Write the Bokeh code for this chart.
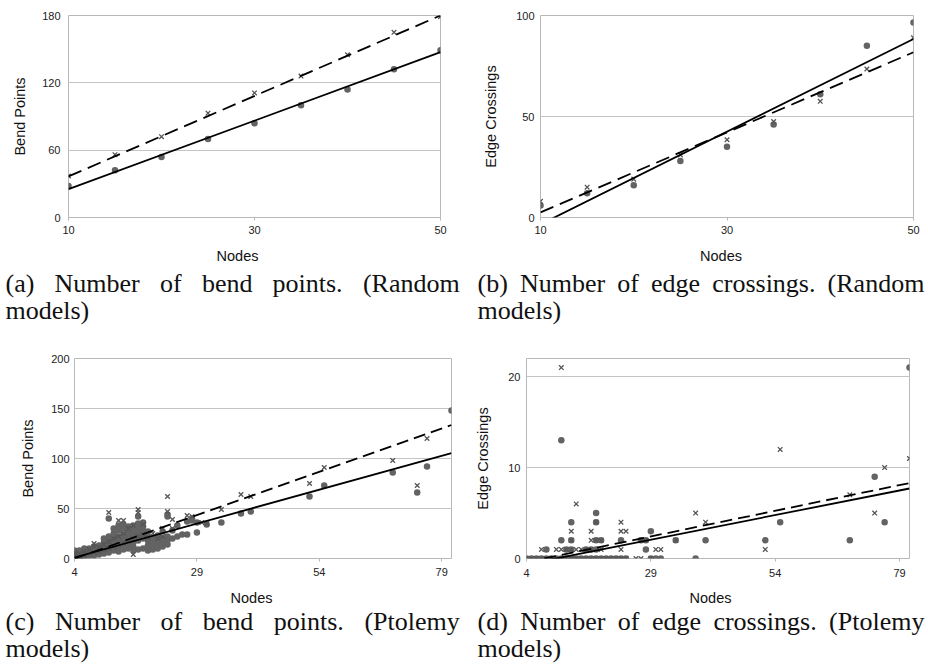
from bokeh.plotting import figure
from bokeh.layouts import column, row
from bokeh.models import Label, FixedTicker, Range1d
from bokeh.embed import file_html
from bokeh.resources import INLINE

# ---------------- data ----------------
# (a) Random models: bend points
a_nodes = [10, 15, 20, 25, 30, 35, 40, 45, 50]
a_dots = [28, 42, 54, 70, 84, 100, 114, 132, 149]
a_cross = [37, 56, 72, 93, 111, 126, 145, 165, 179]
a_trend_x = [10, 50]
a_trend_dots = [25.3, 147.3]
a_trend_cross = [36.6, 180.0]

# (b) Random models: edge crossings
b_nodes = [10, 15, 20, 25, 30, 35, 40, 45, 50]
b_dots = [6, 12, 16, 28, 35, 46, 61, 85, 96.5]
b_cross = [8, 15, 19, 31, 38.5, 47.5, 57.5, 73.5, 89]
b_trend_x = [10, 50]
b_trend_dots = [-3.4, 88.4]
b_trend_cross = [2.5, 81.8]

# (c) Ptolemy models: bend points
c_dot_x = [4, 4, 4, 4, 4, 4, 5, 5, 5, 5, 5, 6, 6, 6, 6, 6, 6, 7, 7, 7, 7, 7,
           8, 8, 8, 8, 8, 8, 9, 9, 9, 9, 9, 10, 10, 10, 10, 10, 10, 10,
           11, 11, 11, 11, 11, 11, 11, 12, 12, 12, 12, 12, 12, 12,
           13, 13, 13, 13, 13, 13, 13, 14, 14, 14, 14, 14, 14, 14,
           15, 15, 15, 15, 15, 15, 16, 16, 16, 16, 16, 16, 16,
           17, 17, 17, 17, 17, 17, 17, 18, 18, 18, 18, 18, 18,
           19, 19, 19, 19, 19, 20, 20, 20, 20, 21, 21, 21, 21,
           22, 22, 22, 22, 23, 23, 23, 23, 23, 24, 24, 25, 25, 26, 27, 27,
           28, 28, 29, 29, 31, 34, 38, 40, 52, 55, 69, 74, 76, 81]
c_dot_y = [0, 2, 3, 5, 7, 8, 1, 3, 4, 6, 8, 2, 4, 5, 7, 9, 10, 3, 5, 6, 8, 10,
           3, 5, 7, 9, 11, 12, 4, 6, 8, 10, 13, 5, 8, 10, 12, 14, 16, 20,
           6, 9, 12, 15, 18, 22, 40, 8, 11, 14, 17, 20, 25, 30,
           7, 12, 15, 18, 22, 28, 33, 9, 13, 16, 20, 24, 30, 34,
           10, 14, 18, 22, 26, 32, 8, 12, 16, 20, 25, 28, 33,
           9, 18, 22, 26, 30, 35, 42, 10, 20, 24, 28, 32, 36,
           8, 13, 18, 22, 27, 9, 12, 16, 20, 10, 14, 18, 23,
           12, 16, 20, 27, 14, 18, 22, 42, 44, 20, 28, 22, 33, 24, 24, 37,
           38, 40, 26, 36, 34, 36, 45, 47, 62, 73, 86, 66, 92, 148]
c_cross_x = [4, 4, 4, 5, 5, 6, 6, 7, 7, 8, 8, 8, 9, 9, 10, 10, 11, 11, 11,
             12, 12, 13, 13, 13, 14, 14, 14, 15, 15, 16, 16, 16, 17, 17, 17,
             18, 18, 19, 20, 21, 22, 22, 23, 23, 24, 24, 27, 28, 30, 31, 34,
             38, 40, 52, 55, 69, 74, 76]
c_cross_y = [1, 4, 6, 2, 5, 3, 7, 5, 9, 6, 12, 15, 7, 11, 9, 14, 10, 17, 46,
             12, 20, 14, 22, 38, 16, 25, 38, 18, 30, 4, 20, 33, 22, 46, 49,
             24, 34, 21, 25, 20, 22, 30, 47, 62, 30, 39, 43, 42, 36, 35, 49,
             64, 62, 75, 91, 98, 73, 120]
c_trend_x = [4, 81]
c_trend_dots = [1.0, 105.4]
c_trend_cross = [0.0, 133.5]

# (d) Ptolemy models: edge crossings
d_dot_x = [4, 5, 6, 7, 8, 9, 10, 11, 12, 13, 14, 15, 16, 17, 18, 19, 20, 21, 22,
           23, 24, 29, 30, 31, 38,
           8, 12, 13, 16, 17, 18, 28,
           11, 13, 18, 19, 23, 27, 28, 34, 40, 52, 69,
           29, 13, 18, 55, 76, 18, 74, 11, 81]
d_dot_y = [0] * 25 + [1] * 7 + [2] * 11 + [3] + [4] * 4 + [5, 9, 13, 21]
d_cross_x = [4, 5, 6, 7, 8, 9, 10, 11, 12, 13, 14, 15, 16, 17, 18, 19, 20, 21,
             22, 23, 24, 26, 27, 29,
             7, 10, 11, 12, 13, 14, 15, 16, 17, 19, 23, 30, 31, 52,
             13, 17, 18, 19, 27, 28, 34,
             13, 17, 23, 24,
             18, 23, 40,
             38, 74, 14, 69, 76, 81, 55, 11]
d_cross_y = ([0] * 24 + [1] * 14 + [2] * 7 + [3] * 4 + [4] * 3
             + [5, 5, 6, 7, 10, 11, 12, 21])
d_trend_x = [4, 81]
d_trend_dots = [-0.64, 7.7]
d_trend_cross = [-0.4, 8.3]

# tick values and text
a_xticks = [10, 30, 50]
a_yticks = [0, 60, 120, 180]
b_xticks = [10, 30, 50]
b_yticks = [0, 50, 100]
cd_xticks = [4, 29, 54, 79]
c_yticks = [0, 50, 100, 150, 200]
d_yticks = [0, 10, 20]
x_title = "Nodes"
a_title = "Bend Points"
b_title = "Edge Crossings"
cap_a = [["(a)", "Number", "of", "bend", "points.", "(Random"], ["models)"]]
cap_b = [["(b)", "Number", "of", "edge", "crossings.", "(Random"], ["models)"]]
cap_c = [["(c)", "Number", "of", "bend", "points.", "(Ptolemy"], ["models)"]]
cap_d = [["(d)", "Number", "of", "edge", "crossings.", "(Ptolemy"], ["models)"]]

# ---------------- styling ----------------
SANS = "Liberation Sans"
SERIF = "Liberation Serif"
DOT_COLOR = "#636363"
CROSS_COLOR = "#555555"
GRID = "#c4c4c4"


def panel(w, h, xr, yr, left, right, top, bottom, xticks, yticks, ylab,
          ylab_standoff, ylbl_standoff, xlbl_standoff):
    p = figure(width=w, height=h, x_range=Range1d(*xr), y_range=Range1d(*yr),
               output_backend="svg", toolbar_location=None,
               min_border_left=left, min_border_right=right,
               min_border_top=top, min_border_bottom=bottom)
    p.outline_line_color = "#b8b8b8"
    p.outline_line_width = 1
    p.xgrid.visible = False
    p.ygrid.grid_line_color = GRID
    p.ygrid.grid_line_width = 1
    p.xaxis.ticker = FixedTicker(ticks=xticks)
    p.yaxis.ticker = FixedTicker(ticks=yticks)
    for ax in (p.xaxis, p.yaxis):
        ax.axis_line_color = None
        ax.minor_tick_line_color = None
        ax.major_tick_line_color = "#b8b8b8"
        ax.major_tick_in = 0
        ax.major_label_text_font = SANS
        ax.major_label_text_font_size = "11px"
        ax.major_label_text_color = "#222222"
        ax.axis_label_text_font = SANS
        ax.axis_label_text_font_size = "14.5px"
        ax.axis_label_text_font_style = "normal"
        ax.axis_label_text_color = "#111111"
    p.xaxis.major_tick_out = 3
    p.yaxis.major_tick_out = 0
    p.xaxis.major_label_standoff = xlbl_standoff
    p.yaxis.major_label_standoff = ylbl_standoff
    p.yaxis.axis_label = ylab
    p.yaxis.axis_label_standoff = ylab_standoff
    return p


def draw(p, dx, dy, cx, cy, tx, ts, tc, dash):
    p.scatter(dx, dy, marker="circle", size=6.5, fill_color=DOT_COLOR,
              line_color=None)
    p.scatter(cx, cy, marker="x", size=6.5, line_color=CROSS_COLOR,
              line_width=1.3)
    p.line(tx, ts, line_color="black", line_width=1.8)
    p.line(tx, tc, line_color="black", line_width=1.8, line_dash=dash)


def caption(w, h, xtitle_pos, lines, xs, baselines):
    """Strip under a panel: the x-axis title followed by the justified caption."""
    c = figure(width=w, height=h, x_range=Range1d(0, w), y_range=Range1d(0, h),
               output_backend="svg", toolbar_location=None, title=None,
               x_axis_type=None, y_axis_type=None, min_border=0)
    c.outline_line_color = None
    c.grid.visible = False
    c.add_layout(Label(x=xtitle_pos[0], y=h - xtitle_pos[1], text=x_title,
                       text_font=SANS, text_font_size="14.5px",
                       text_color="#111111", text_baseline="middle",
                       text_align="center"))
    for li, words in enumerate(lines):
        for wi, word in enumerate(words):
            c.add_layout(Label(x=xs[li][wi], y=h - baselines[li], text=word,
                               text_font=SERIF, text_font_size="26px",
                               text_color="#111111",
                               text_baseline="alphabetic", text_align="left"))
    return c


W = 464
TOP_H = 242
TOP_CAP = 90
BOT_H = 254
BOT_CAP = 79
# (a)
pa = panel(W, TOP_H, (10, 50), (0, 180), 68, 24, 15, TOP_H - 217, a_xticks,
           a_yticks, a_title, 11, 8, 5)
draw(pa, a_nodes, a_dots, a_nodes, a_cross, a_trend_x, a_trend_dots,
     a_trend_cross, "14 7")
cpa = caption(W, TOP_CAP, (237, 13), cap_a,
              [[5, 54, 159.5, 201.4, 272, 362.4], [5]], [40.7, 68.3])

# (b)
pb = panel(W, TOP_H, (10, 50), (0, 100), 76, 15, 15, TOP_H - 217, b_xticks,
           b_yticks, b_title, 14, 6, 5)
draw(pb, b_nodes, b_dots, b_nodes, b_cross, b_trend_x, b_trend_dots,
     b_trend_cross, "14 7")
cpb = caption(W, TOP_CAP, (256.5, 13), cap_b,
              [[13, 55.4, 152.7, 186.5, 247.7, 363.1], [13]], [40.7, 68.3])

# (c)
pc = panel(W, BOT_H, (4, 81), (0, 200), 74, 13, 26, BOT_H - 227, cd_xticks,
           c_yticks, a_title, 12, 5, 6)
draw(pc, c_dot_x, c_dot_y, c_cross_x, c_cross_y, c_trend_x, c_trend_dots,
     c_trend_cross, "12 6")
cpc = caption(W, BOT_CAP, (251, 11), cap_c,
              [[5, 54.4, 160.1, 202.3, 273.3, 363.9], [5]], [35, 61.5])

# (d)
pd = panel(W, BOT_H, (4, 81), (0, 22), 62, 19, 16, BOT_H - 226, cd_xticks,
           d_yticks, b_title, 14, 6, 7)
draw(pd, d_dot_x, d_dot_y, d_cross_x, d_cross_y, d_trend_x, d_trend_dots,
     d_trend_cross, "12 6")
cpd = caption(W, BOT_CAP, (246, 11), cap_d,
              [[13, 55.7, 153.3, 187.4, 248.9, 364.6], [13]], [35, 61.5])

layout = column(row(pa, pb), row(cpa, cpb), row(pc, pd), row(cpc, cpd))
open("out.html", "w").write(file_html(layout, INLINE))
